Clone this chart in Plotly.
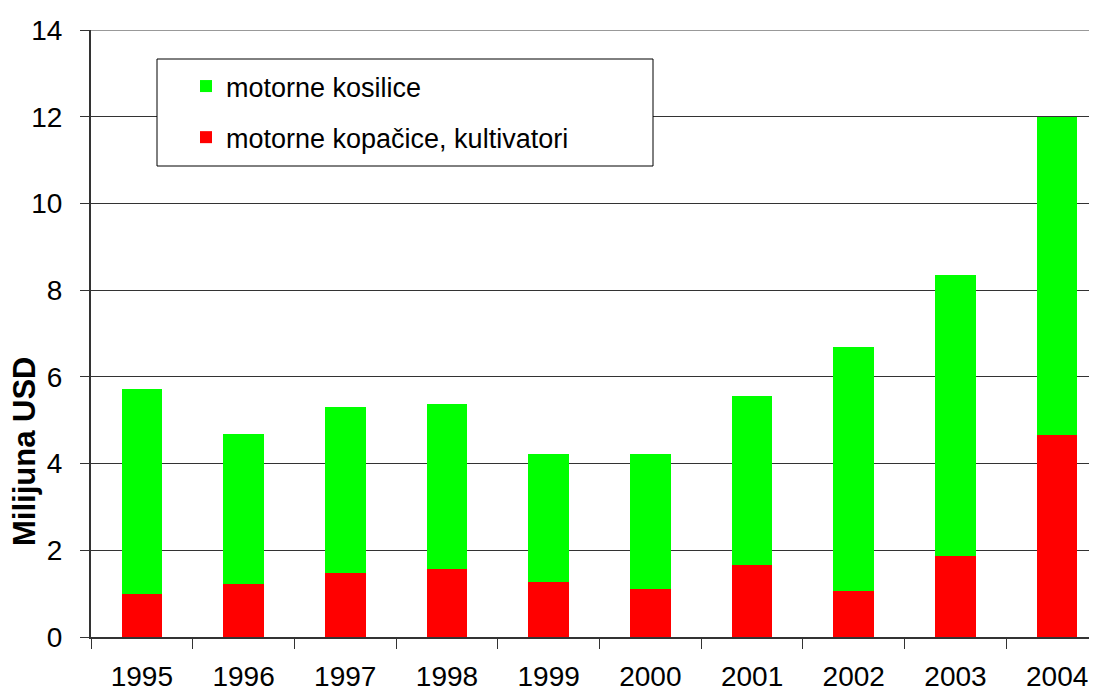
import plotly.graph_objects as go

years = ["1995", "1996", "1997", "1998", "1999", "2000", "2001", "2002", "2003", "2004"]
kopacice = [0.99, 1.22, 1.47, 1.56, 1.27, 1.10, 1.65, 1.05, 1.86, 4.67]
kosilice = [4.73, 3.46, 3.83, 3.82, 2.95, 3.13, 3.90, 5.65, 6.50, 7.33]
name_kosilice = "motorne kosilice"
name_kopacice = "motorne kopačice, kultivatori"
y_title = "Milijuna USD"

# the page body has an 8px default margin; design in page pixels and compensate
OFF = 8
PAGE_W, PAGE_H = 1097, 691
W, H = PAGE_W - OFF, PAGE_H - OFF
PL, PT, PB, PR = 91, 30, 637, 1097  # plot area in page pixels
L, T = PL - OFF, PT - OFF
B = H - (PB - OFF)
R = W - (PR - OFF)
pw, ph = W - L - R, H - T - B

def px_x(p):
    return (p - PL) / pw

def px_y(p):
    return (PB - p) / ph

FONT = "Liberation Sans, Arial, sans-serif"
CAT_W = 101.7

fig = go.Figure()
fig.add_trace(go.Bar(x=years, y=kopacice, name=name_kopacice, marker_color="#FF0000",
                     marker_line_width=0, width=0.4, legendgroup="b", legendrank=2))
fig.add_trace(go.Bar(x=years, y=kosilice, name=name_kosilice, marker_color="#00FF00",
                     marker_line_width=0, width=0.4, legendgroup="a", legendrank=1))

fig.update_layout(
    width=W, height=H,
    margin=dict(l=L, r=R, t=T, b=B, pad=0, autoexpand=False),
    barmode="stack",
    plot_bgcolor="white", paper_bgcolor="white",
    font=dict(family=FONT, color="black", size=28),
    showlegend=True,
    legend=dict(
        x=px_x(186), y=px_y(62), xanchor="left", yanchor="top",
        bgcolor="rgba(0,0,0,0)", borderwidth=0,
        font=dict(size=27, family=FONT),
        traceorder="grouped", tracegroupgap=13,
    ),
    xaxis=dict(
        type="category", range=[-0.5, -0.5 + pw / CAT_W],
        automargin=False,
        showline=True, linecolor="#333333", linewidth=2,
        ticks="outside", ticklen=10, tickwidth=1, tickcolor="#333333",
        tickson="boundaries", showgrid=False,
        tickfont=dict(size=28), ticklabelstandoff=13,
    ),
    yaxis=dict(
        range=[0, 14], dtick=2, tick0=0, automargin=False,
        showline=True, linecolor="#333333", linewidth=2,
        ticks="outside", ticklen=9, tickwidth=1, tickcolor="#333333",
        showgrid=True, gridcolor="#333333", gridwidth=1,
        zeroline=False,
        tickfont=dict(size=28), ticklabelstandoff=12,
    ),
    shapes=[
        dict(type="line", xref="paper", yref="y", x0=0, x1=1, y0=14, y1=14,
             line=dict(color="#999999", width=2), layer="above"),
        dict(type="rect", xref="paper", yref="paper",
             x0=px_x(157), x1=px_x(653), y0=px_y(166), y1=px_y(59),
             line=dict(color="black", width=1), fillcolor="white", layer="above"),
    ],
    annotations=[
        dict(text="<b>" + y_title + "</b>", xref="paper", yref="paper",
             x=px_x(24), y=px_y(452), xanchor="center", yanchor="middle",
             textangle=-90, showarrow=False, font=dict(size=31, family=FONT)),
    ],
)

fig.write_html("out.html")
